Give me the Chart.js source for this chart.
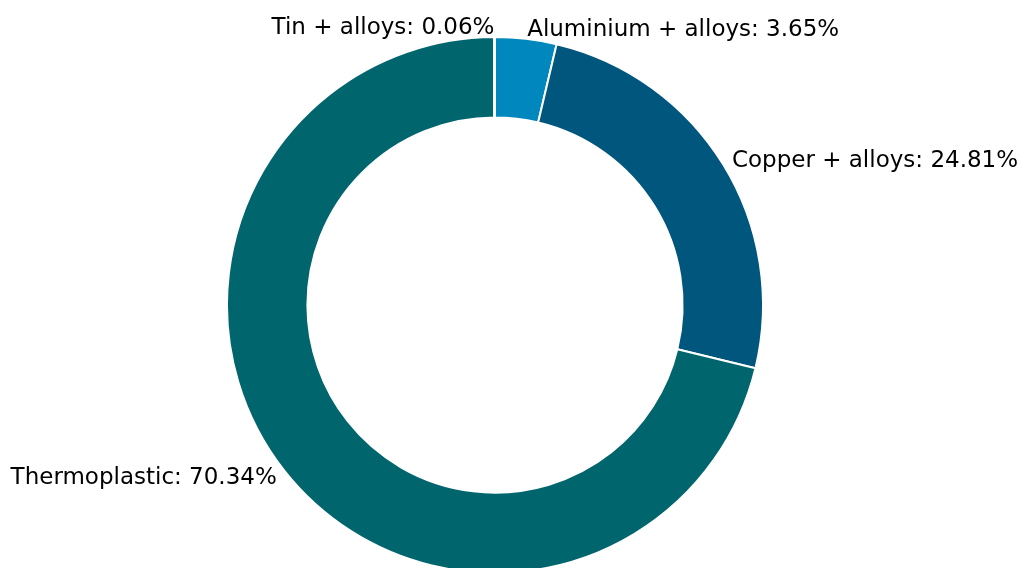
<!DOCTYPE html>
<html>
<head>
<meta charset="utf-8">
<script src="https://cdn.jsdelivr.net/npm/chart.js@4.4.1/dist/chart.umd.min.js"></script>
<style>
  html, body { margin: 0; padding: 0; background: #fff; overflow: hidden; }
  #wrap { position: relative; width: 1024px; height: 574px; }
</style>
</head>
<body>
<div id="wrap"><canvas id="chart"></canvas></div>
<script>
// Données (sens horaire depuis le haut)
const labels = ["Aluminium + alloys", "Copper + alloys", "Thermoplastic", "Tin + alloys"];
const valeurs = [3.65, 24.81, 70.34, 0.06];
const couleurs = ["#0087bd", "#00567d", "#00656c", "#00656c"];

// Étiquettes à l'extérieur de l'anneau, comme matplotlib
const etiquettes = {
  id: "etiquettes",
  afterDraw(chart) {
    const ctx = chart.ctx;
    const meta = chart.getDatasetMeta(0);
    ctx.save();
    ctx.font = "23px 'DejaVu Sans'";
    ctx.fillStyle = "#000";
    ctx.textBaseline = "middle";
    meta.data.forEach((arc, i) => {
      const p = arc.getProps(["x", "y", "startAngle", "endAngle", "outerRadius"], true);
      const milieu = (p.startAngle + p.endAngle) / 2;
      const dist = p.outerRadius + 10;
      const x = p.x + Math.cos(milieu) * dist;
      const y = p.y + Math.sin(milieu) * dist;
      ctx.textAlign = x >= p.x ? "left" : "right";
      ctx.fillText(labels[i] + ": " + valeurs[i].toFixed(2) + "%", x, y + 1);
    });
    ctx.restore();
  }
};

new Chart(document.getElementById("chart"), {
  type: "doughnut",
  data: {
    labels: labels,
    datasets: [{
      data: valeurs,
      backgroundColor: couleurs,
      borderColor: "#ffffff",
      borderWidth: 2,
    }],
  },
  options: {
    responsive: true,
    maintainAspectRatio: false,
    animation: false,
    cutout: "70%",
    layout: { padding: { top: 36, left: 226, right: 260, bottom: 0 } },
    plugins: {
      legend: { display: false },
      tooltip: { enabled: false },
    },
  },
  plugins: [etiquettes],
});
</script>
</body>
</html>
